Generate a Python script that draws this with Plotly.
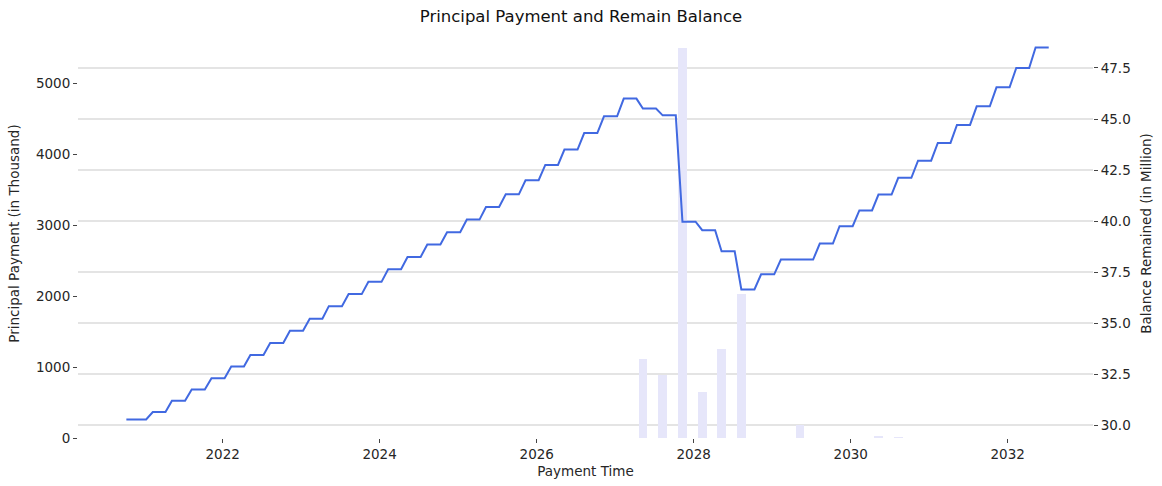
import numpy as np
import pandas as pd
import plotly.graph_objects as go

# ---- data ----
# remaining balance (in million), one value per quarterly step
balance_quarterly = [
    30.28, 30.64, 31.19, 31.75, 32.30, 32.87, 33.44, 34.02, 34.62, 35.21,
    35.83, 36.42, 37.02, 37.64, 38.24, 38.85, 39.45, 40.07, 40.69, 41.31,
    42.00, 42.75, 43.50, 44.31, 45.13, 46.00, 45.51, 45.18, 39.97, 39.55,
    38.52, 36.65, 37.39, 38.11, 38.11, 38.90, 39.75, 40.52, 41.30, 42.12,
    42.96, 43.83, 44.71, 45.62, 46.55, 47.50, 48.50,
]
# number of monthly observations at each step level
months_per_step = [4] + [3] * 46
first_date = "2020-10-10"
n_months = 142

# principal payments (in thousand)
payment_dates = [
    "2027-05-10", "2027-08-10", "2027-11-10", "2028-02-10", "2028-05-10",
    "2028-08-10", "2029-05-10", "2030-05-10", "2030-08-10",
]
payment_values = [1108, 887, 5497, 653, 1250, 2027, 190, 18, 10]

left_ticks = [0, 1000, 2000, 3000, 4000, 5000]
right_ticks = [30.0, 32.5, 35.0, 37.5, 40.0, 42.5, 45.0, 47.5]
year_ticks = ["2022", "2024", "2026", "2028", "2030", "2032"]

# ---- build ----
dates = [pd.Timestamp(first_date) + pd.DateOffset(months=i) for i in range(n_months)]
balance = np.repeat(balance_quarterly, months_per_step)

FONT = "DejaVu Sans"
TXT = "#262626"
FS = 13.5

fig = go.Figure()
fig.add_trace(go.Bar(
    x=pd.to_datetime(payment_dates), y=payment_values,
    width=40 * 86400000, marker=dict(color="#E6E6FA", line=dict(width=0)),
    yaxis="y", name="Principal Payment",
))
fig.add_trace(go.Scatter(
    x=dates, y=balance, mode="lines",
    line=dict(color="#4169E1", width=2),
    yaxis="y2", name="Balance",
))

axis_common = dict(
    showline=False, zeroline=False, ticks="outside", ticklen=4,
    tickwidth=1, tickcolor="#444", tickfont=dict(family=FONT, size=FS, color=TXT),
)

fig.update_layout(
    width=1162, height=486,
    margin=dict(l=78, r=69, t=29, b=48, autoexpand=False),
    plot_bgcolor="white", paper_bgcolor="white",
    showlegend=False,
    bargap=0,
    font=dict(family=FONT, color=TXT),
    title=dict(text="Principal Payment and Remain Balance", x=0.5, xanchor="center",
               y=1 - 16 / 486, yanchor="middle", yref="container",
               font=dict(family=FONT, size=16.5, color="#111")),
    xaxis=dict(
        **axis_common, type="date", range=["2020-02-28", "2033-02-01"],
        showgrid=False,
        tickvals=[f"{y}-01-01" for y in year_ticks], ticktext=year_ticks,
        title=dict(text="Payment Time", standoff=5, font=dict(family=FONT, size=FS, color=TXT)),
    ),
    yaxis=dict(
        **axis_common, range=[0, 5772], showgrid=False,
        tickvals=left_ticks, ticktext=[str(v) for v in left_ticks],
        title=dict(text="Principal Payment (in Thousand)", standoff=13,
                   font=dict(family=FONT, size=FS, color=TXT)),
    ),
    yaxis2=dict(
        **axis_common, overlaying="y", side="right", range=[29.37, 49.41],
        showgrid=True, gridcolor="#e4e4e4", gridwidth=1.5,
        tickvals=right_ticks, ticktext=[f"{v:.1f}" for v in right_ticks],
        title=dict(text="Balance Remained (in Million)", standoff=11,
                   font=dict(family=FONT, size=FS, color=TXT)),
    ),
)

fig.write_html("out.html", config={"displayModeBar": False},
               post_script="document.body.style.margin='0';")
